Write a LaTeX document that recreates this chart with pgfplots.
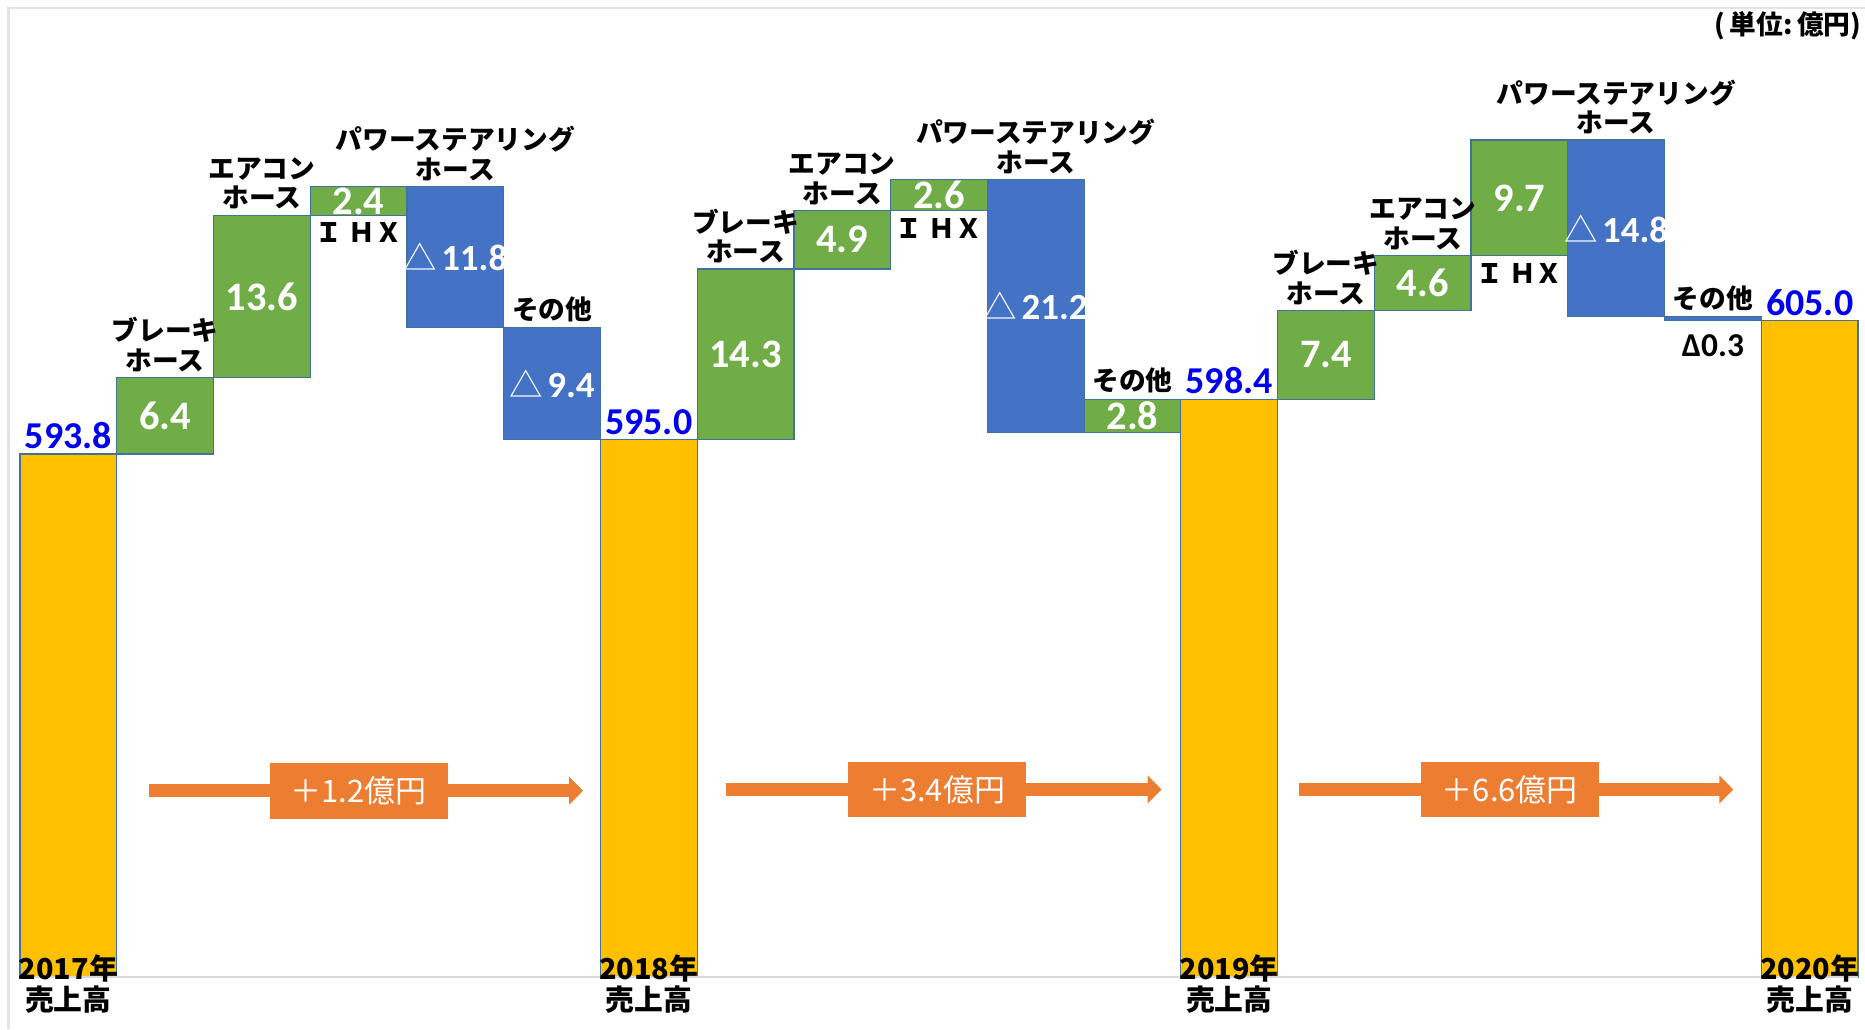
\documentclass[border=0pt]{standalone}
\usepackage{fontspec}
\setmainfont{Carlito}
\newfontfamily\jp{Noto Sans CJK JP}
\usepackage{pgfplots}
\pgfplotsset{compat=1.18}
\usepackage{pgfplotstable}
\usetikzlibrary{arrows.meta}
\definecolor{cY}{HTML}{FFC000}
\definecolor{cG}{HTML}{70AD47}
\definecolor{cB}{HTML}{4472C4}
\definecolor{cO}{HTML}{ED7D31}
\definecolor{cE}{HTML}{41719C}
\definecolor{cL}{HTML}{D9D9D9}
\definecolor{cF}{HTML}{E3E3E3}
\definecolor{cT}{HTML}{0000F0}

% waterfall: invisible base (low), then the visible segment heights
\pgfplotstableread{
x  low    yel   grn   blu
0  550    43.8  0     0
1  593.8  0     6.4   0
2  600.2  0     13.6  0
3  613.8  0     2.4   0
4  604.4  0     0     11.8
5  595.0  0     0     9.4
6  550    45.0  0     0
7  595.0  0     14.3  0
8  609.3  0     4.9   0
9  614.2  0     2.6   0
10 595.6  0     0     21.2
11 595.6  0     2.8   0
12 550    48.4  0     0
13 598.4  0     7.4   0
14 605.8  0     4.6   0
15 610.4  0     9.7   0
16 605.3  0     0     14.8
17 605.0  0     0     0.3
18 550    55.0  0     0
}\wf

\newcommand\tri{{\jp\mdseries\fontsize{9.5}{10}\selectfont △}\hspace{0.12em}}

\begin{document}
\begin{tikzpicture}[
  tot/.style={font=\bfseries\fontsize{10.8}{12}\selectfont, text=cT, anchor=south, inner sep=1.2pt},
  dl/.style={font=\bfseries\fontsize{11.5}{12}\selectfont, text=white, inner sep=0pt},
  dn/.style={font=\bfseries\fontsize{10.5}{12}\selectfont, text=white, inner sep=0pt},
  cat/.style={font=\jp\bfseries\fontsize{7.6}{8.4}\selectfont, align=center, anchor=south, inner sep=1.5pt},
  catb/.style={font=\jp\bfseries\fontsize{7.6}{8.4}\selectfont, align=center, anchor=north, inner sep=2pt},
  yr/.style={font=\jp\bfseries\fontsize{8.2}{8.6}\selectfont, align=center, inner sep=0pt},
  box/.style={fill=cO, minimum width=17.8mm, minimum height=5.57mm, inner sep=0pt, text=white, font=\jp\fontsize{8.8}{9}\selectfont},
  arr/.style={cO, line width=1.33mm, -{Triangle[width=2.75mm, length=1.4mm]}}
]
\begin{axis}[
  width=186.5mm, height=102.9mm, scale only axis,
  xmin=-0.7067, xmax=18.572, ymin=545.64, ymax=631.83,
  axis line style={draw=none}, ticks=none,
  ybar stacked, reverse stacked plots=false, bar width=1,
]
\addplot[draw=none, fill=none, forget plot] table[x=x,y=low]{\wf};
\addplot[fill=cY, draw=cE, line width=0.35pt] table[x=x,y=yel]{\wf};
\addplot[fill=cG, draw=cE, line width=0.35pt] table[x=x,y=grn]{\wf};
\addplot[fill=cB, draw=cE, line width=0.35pt] table[x=x,y=blu]{\wf};

% frame and base line
\draw[cF, line width=0.3mm] (axis cs:-0.624,545.64) -- (axis cs:-0.624,631.16) -- (axis cs:18.572,631.16);
\draw[cL, line width=0.25mm] (axis cs:-0.5,550) -- (axis cs:18.5,550);
% arrows
\draw[arr] (axis cs:0.83,565.6) -- (axis cs:5.32,565.6);
\draw[arr] (axis cs:6.80,565.7) -- (axis cs:11.30,565.7);
\draw[arr] (axis cs:12.72,565.7) -- (axis cs:17.21,565.7);

% totals
\node[tot] at (axis cs:0,593.8) {593.8};
\node[tot] at (axis cs:6,595.0) {595.0};
\node[tot] at (axis cs:12,598.4) {598.4};
\node[tot] at (axis cs:18,605.0) {605.0};

% deltas
\node[dl] at (axis cs:1,597.0) {6.4};
\node[dl] at (axis cs:2,607.0) {13.6};
\node[dl] at (axis cs:3,615.0) {2.4};
\node[dn] at (axis cs:4,610.3) {\tri 11.8};
\node[dn] at (axis cs:5,599.7) {\tri 9.4};
\node[dl] at (axis cs:7,602.15) {14.3};
\node[dl] at (axis cs:8,611.75) {4.9};
\node[dl] at (axis cs:9,615.5) {2.6};
\node[dn] at (axis cs:10,606.2) {\tri 21.2};
\node[dl] at (axis cs:11,597.0) {2.8};
\node[dl] at (axis cs:13,602.1) {7.4};
\node[dl] at (axis cs:14,608.1) {4.6};
\node[dl] at (axis cs:15,615.25) {9.7};
\node[dn] at (axis cs:16,612.7) {\tri 14.8};
\node[font=\bfseries\fontsize{9.5}{10}\selectfont, anchor=north, inner sep=0pt] at (axis cs:17,603.9) {Δ0.3};

% category labels
\node[cat] at (axis cs:1,600.2) {ブレーキ\\ホース};
\node[cat] at (axis cs:2,613.8) {エアコン\\ホース};
\node[catb] at (axis cs:3,613.8) {Ｉ ＨＸ};
\node[cat] at (axis cs:4,616.2) {パワーステアリング\\ホース};
\node[cat] at (axis cs:5,604.4) {その他};
\node[cat] at (axis cs:7,609.3) {ブレーキ\\ホース};
\node[cat] at (axis cs:8,614.2) {エアコン\\ホース};
\node[catb] at (axis cs:9,614.2) {Ｉ ＨＸ};
\node[cat] at (axis cs:10,616.8) {パワーステアリング\\ホース};
\node[cat] at (axis cs:11,598.4) {その他};
\node[cat] at (axis cs:13,605.8) {ブレーキ\\ホース};
\node[cat] at (axis cs:14,610.4) {エアコン\\ホース};
\node[catb] at (axis cs:15,610.4) {Ｉ ＨＸ};
\node[cat] at (axis cs:16,620.1) {パワーステアリング\\ホース};
\node[cat] at (axis cs:17,605.3) {その他};

% year labels
\node[yr] at (axis cs:0,549.4) {2017年\\売上高};
\node[yr] at (axis cs:6,549.4) {2018年\\売上高};
\node[yr] at (axis cs:12,549.4) {2019年\\売上高};
\node[yr] at (axis cs:18,549.4) {2020年\\売上高};

% unit
\node[font=\jp\bfseries\fontsize{7.6}{8}\selectfont, anchor=east, inner sep=0pt] at (axis cs:18.54,629.65) {(\,単位:\,億円)};

% arrow labels
\node[box] at (axis cs:3.0,565.6) {＋1.2億円};
\node[box] at (axis cs:8.98,565.7) {＋3.4億円};
\node[box] at (axis cs:14.90,565.7) {＋6.6億円};
\end{axis}
\end{tikzpicture}
\end{document}
